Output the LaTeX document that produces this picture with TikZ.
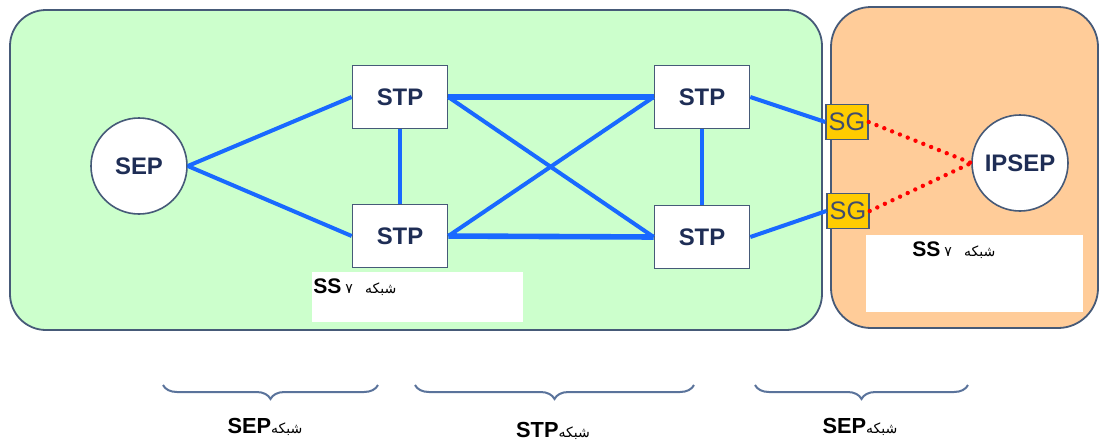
\documentclass[tikz,border=0pt]{standalone}
\usepackage{fontspec}
\setmainfont{Liberation Sans}
\newfontfamily\farsi[Script=Arabic]{DejaVu Sans}
\TeXXeTstate=1
\usepackage{tikz}
\usetikzlibrary{positioning, arrows.meta, calc, decorations.pathreplacing}

\definecolor{netgreen}{RGB}{204,255,204}
\definecolor{netorange}{RGB}{255,204,153}
\definecolor{edgegray}{RGB}{70,90,120}
\definecolor{linkblue}{RGB}{25,105,255}
\definecolor{sgyellow}{RGB}{255,204,0}
\definecolor{navytext}{RGB}{30,45,85}
\definecolor{bracecol}{RGB}{90,115,155}

\begin{document}
\begin{tikzpicture}[
  x=0.25mm, y=-0.25mm,
  region/.style={draw=edgegray, line width=0.45mm, rounded corners=#1},
  region/.default=9mm,
  sep/.style={circle, draw=edgegray, line width=0.4mm, fill=white, minimum size=24mm, inner sep=0pt,
    font=\fontsize{17}{20}\selectfont\bfseries, text=navytext},
  stp/.style={draw=edgegray, line width=0.4mm, fill=white, minimum width=23.75mm, minimum height=15.75mm,
    inner sep=0pt, font=\fontsize{17}{20}\selectfont\bfseries, text=navytext},
  sg/.style={draw=edgegray, line width=0.35mm, fill=sgyellow, minimum width=10.5mm, minimum height=8.75mm,
    inner sep=0pt, font=\fontsize{18}{20}\selectfont, text=navytext!85},
  lblbox/.style={fill=white, inner sep=0pt},
  link/.style={linkblue, line width=1mm},
  trunk/.style={linkblue, line width=1.4mm},
  iplink/.style={red, line width=1.1mm, line cap=round, dash pattern=on 0pt off 2.1mm},
  brc/.style={bracecol, line width=0.5mm, decorate, decoration={brace, mirror, amplitude=3.5mm}},
  netlbl/.style={font=\fontsize{15.5}{18}\selectfont\bfseries, inner sep=0pt, anchor=base},
]
\useasboundingbox[fill=white] (0,0) rectangle (1100,446);

% === REGIONS ===
\draw[region, fill=netgreen] (10,10) rectangle (822,330);
\draw[region=10mm, fill=netorange] (831,7) rectangle (1098,328);

\node[lblbox, minimum width=52.75mm, minimum height=12.5mm] (ssleft) at (417.5,297) {};
\node[lblbox, minimum width=54.25mm, minimum height=19.25mm] (ssright) at (974.5,273.5) {};

% label text
\node[anchor=base west, inner sep=0pt] (ssleftlbl) at (313,293)
  {{\fontsize{15}{16}\selectfont\bfseries SS}\;{\farsi\fontsize{10}{12}\selectfont ۷\;\; \beginR شبکه\endR}};
\node[anchor=base west, inner sep=0pt] (ssrightlbl) at (912,256)
  {{\fontsize{15}{16}\selectfont\bfseries SS}\;{\farsi\fontsize{10}{12}\selectfont ۷\;\; \beginR شبکه\endR}};

% === NODES ===
\node[sep] (sep) at (139,166) {SEP};
\node[stp] (stp1) at (400,97) {STP};
\node[stp] (stp2) at (400,236) {STP};
\node[stp] (stp3) at (702,97) {STP};
\node[stp] (stp4) at (702,237) {STP};
\node[sg] (sg1) at (847,122) {SG};
\node[sg] (sg2) at (848,211) {SG};
\node[sep] (ipsep) at (1020,163) {IPSEP};

% === LINKS ===
\draw[link] (sep.east) -- (stp1.west);
\draw[link] (sep.east) -- (stp2.west);
\draw[link] (stp1) -- (stp2);
\draw[link] (stp3) -- (stp4);
\draw[trunk] (stp1.east) -- (stp3.west);
\draw[trunk] (stp2.east) -- (stp4.west);
\draw[link] (stp1.east) -- (stp4.west);
\draw[link] (stp2.east) -- (stp3.west);
\draw[link] (stp3.east) -- (sg1.west);
\draw[link] (stp4.east) -- (sg2.west);

\draw[iplink] (sg1.east) -- (ipsep.west);
\draw[iplink] (sg2.east) -- (ipsep.west);

% === BRACES ===
\coordinate (b1l) at (163,385);
\coordinate (b1r) at (378,385);
\coordinate (b2l) at (415,385);
\coordinate (b2r) at (694,385);
\coordinate (b3l) at (755,385);
\coordinate (b3r) at (968,385);

\draw[brc] (b1l) -- (b1r);
\draw[brc] (b2l) -- (b2r);
\draw[brc] (b3l) -- (b3r);

\node[netlbl] (seplbl) at (265,433) {SEP{\farsi\mdseries\fontsize{10}{12}\selectfont\beginR شبکه\endR}};
\node[netlbl] (stplbl) at (553,437) {STP{\farsi\mdseries\fontsize{10}{12}\selectfont\beginR شبکه\endR}};
\node[netlbl] (ipseplbl) at (860,433) {SEP{\farsi\mdseries\fontsize{10}{12}\selectfont\beginR شبکه\endR}};

\end{tikzpicture}
\end{document}
